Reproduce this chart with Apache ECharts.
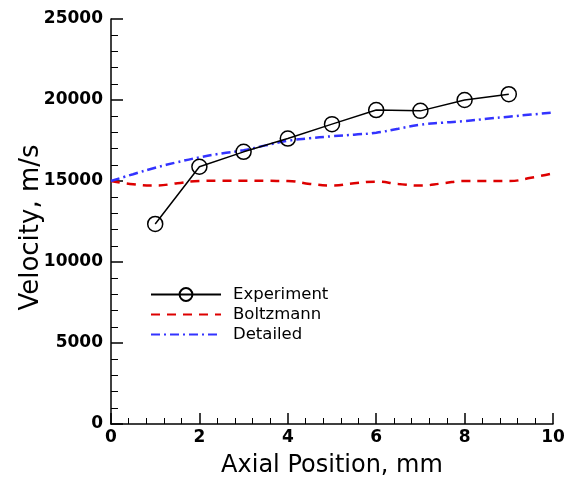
<!DOCTYPE html>
<html>
<head>
<meta charset="utf-8">
<script src="https://cdn.jsdelivr.net/npm/echarts@6/dist/echarts.min.js"></script>
<style>
  html, body { margin: 0; padding: 0; background: #fff; }
  #chart { width: 571px; height: 479px; }
</style>
</head>
<body>
<div id="chart"></div>
<script>
// measured points
var expX = [1, 2, 3, 4, 5, 6, 7, 8, 9]
var expY = [12350, 15880, 16800, 17620, 18510, 19380, 19330, 20000, 20360]

var modelX = [0, 0.5, 1, 1.5, 2, 2.5, 3, 3.5, 4, 4.5, 5, 5.5, 6, 6.5, 7, 7.5, 8, 8.5, 9, 9.5, 10]
var boltzY = [15000, 14800, 14720, 14860, 15000, 15020, 15020, 15010, 15000, 14820, 14720, 14860, 14960, 14820, 14720, 14850, 15000, 15000, 15000, 15200, 15480]
var detailY = [15000, 15420, 15820, 16160, 16460, 16700, 16900, 17200, 17480, 17640, 17760, 17860, 17980, 18230, 18470, 18600, 18700, 18840, 18970, 19100, 19220]

var font = "DejaVu Sans"

function pairs(xs, ys) {
  var out = []
  for (var i = 0; i < xs.length; i++) out.push([xs[i], ys[i]])
  return out
}

var chart = echarts.init(document.getElementById("chart"))

var hidden = { color: "rgba(0,0,0,0)", borderWidth: 0 }

var option = {
  backgroundColor: "#ffffff",
  animation: false,
  grid: { left: 111, right: 18, top: 19, bottom: 55, outerBoundsMode: "none", containLabel: false },
  legend: {
    orient: "vertical",
    left: 145,
    top: 281,
    itemWidth: 70,
    itemHeight: 16,
    itemGap: 3,
    textStyle: { fontFamily: font, fontSize: 16.5, color: "#000", padding: [0, 0, 0, 7] },
    data: [
      { name: "Experiment" },
      { name: "Boltzmann", itemStyle: hidden },
      { name: "Detailed", itemStyle: hidden },
    ],
  },
  xAxis: {
    type: "value",
    min: 0,
    max: 10,
    interval: 2,
    name: "Axial Position, mm",
    nameLocation: "middle",
    nameGap: 30,
    nameMoveOverlap: false,
    nameTextStyle: { fontFamily: font, fontSize: 24, color: "#000" },
    axisLine: { lineStyle: { color: "#000", width: 1.5 } },
    axisTick: { inside: true, length: 11, lineStyle: { color: "#000", width: 1.5 } },
    minorTick: { show: true, splitNumber: 5, length: 6, lineStyle: { color: "#000", width: 1 } },
    axisLabel: { fontFamily: font, fontWeight: "bold", fontSize: 17, color: "#000", margin: 5 },
    splitLine: { show: false },
  },
  yAxis: {
    type: "value",
    min: 0,
    max: 25000,
    interval: 5000,
    name: "Velocity, m/s",
    nameLocation: "middle",
    nameGap: 67,
    nameMoveOverlap: false,
    nameTextStyle: { fontFamily: font, fontSize: 26, color: "#000", padding: [0, 12, 0, 0] },
    axisLine: { show: true, lineStyle: { color: "#000", width: 1.5 } },
    axisTick: { show: true, inside: true, length: 12, lineStyle: { color: "#000", width: 1.5 } },
    minorTick: { show: true, splitNumber: 5, length: 7, lineStyle: { color: "#000", width: 1 } },
    axisLabel: {
      fontFamily: font, fontWeight: "bold", fontSize: 17, color: "#000", margin: 8,
      formatter: function (v) { return String(v) },
    },
    splitLine: { show: false },
  },
  series: [
    {
      name: "Experiment",
      type: "line",
      data: pairs(expX, expY),
      symbol: "circle",
      symbolSize: 15,
      showAllSymbol: true,
      lineStyle: { color: "#000", width: 1.5 },
      itemStyle: { color: "rgba(255,255,255,0)", borderColor: "#000", borderWidth: 1.5 },
      z: 5,
    },
    {
      name: "Boltzmann",
      type: "line",
      data: pairs(modelX, boltzY),
      smooth: true,
      symbol: "none",
      lineStyle: { color: "#dd0000", width: 2.5, type: [9, 7] },
      itemStyle: { color: "#dd0000" },
    },
    {
      name: "Detailed",
      type: "line",
      data: pairs(modelX, detailY),
      smooth: true,
      symbol: "none",
      lineStyle: { color: "#3333ff", width: 2.5, type: [9, 4, 2, 4] },
      itemStyle: { color: "#3333ff" },
    },
  ],
}

chart.setOption(option)
</script>
</body>
</html>
